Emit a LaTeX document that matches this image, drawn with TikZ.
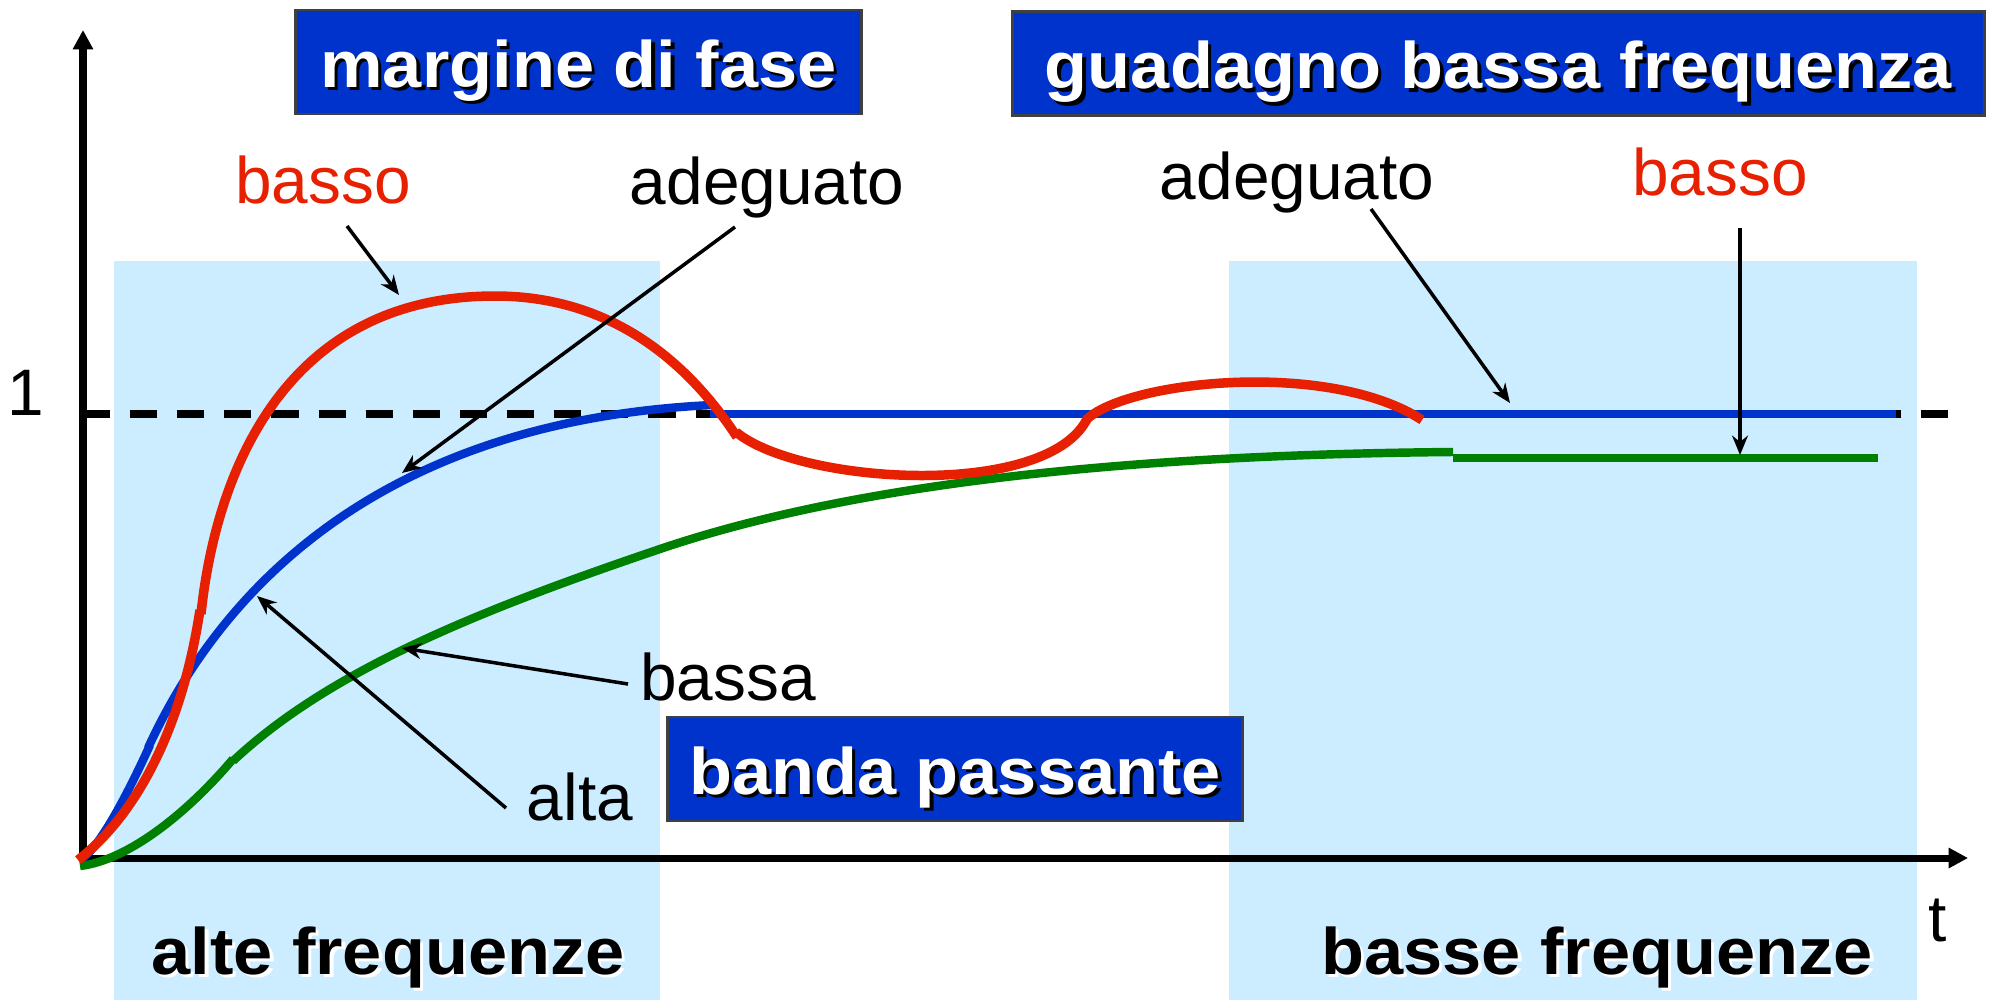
\documentclass[tikz,border=0pt]{standalone}
\usepackage{fontspec}
\setmainfont{Liberation Sans}
\newfontfamily\boldlbl[FakeStretch=1.07]{Liberation Sans Bold}
\usetikzlibrary{arrows.meta}
\definecolor{boxblue}{RGB}{0,51,204}
\definecolor{skyfill}{RGB}{204,236,255}
\definecolor{curvered}{RGB}{230,32,0}
\definecolor{curveblue}{RGB}{0,51,204}
\definecolor{curvegreen}{RGB}{0,128,0}
\newcommand{\shadowed}[2]{\makebox[0pt][l]{\hspace*{1pt}\raisebox{-1pt}{\color{#1}#2}}#2}

\begin{document}
\begin{tikzpicture}[x=0.01cm, y=-0.01cm,
    curve/.style={line width=2.4pt},
    pointer/.style={line width=1pt, -{Stealth[length=5.5pt,width=4.5pt]}},
    axis/.style={line width=2pt, -{Triangle[length=5.5pt,width=5.5pt]}},
    titlebox/.style={fill=boxblue, draw=black!75, line width=0.8pt, text=white, inner sep=0pt,
        text height=0.77cm, text depth=0.27cm, font=\boldlbl\fontsize{18.7}{20}\selectfont},
    lbl/.style={anchor=base, inner sep=0pt, font=\fontsize{18.7}{20}\selectfont},
    bandlbl/.style={anchor=base, inner sep=0pt, font=\boldlbl\fontsize{18.7}{20}\selectfont}]
    \useasboundingbox (0,0) rectangle (1989,1000);
    % frequency bands
    \fill[skyfill] (114,261) rectangle (660,1000);
    \fill[skyfill] (1229,261) rectangle (1917,1000);
    \coordinate (O) at (83,858);
    % unit level and axes
    \draw[line width=2pt, dash pattern=on 7.7pt off 5.7pt] (O |- 0,414) -- (1961,414);
    \draw[axis] (O) -- (83,30);
    \draw[axis] (O) -- (1968,858);
    \node[lbl] (one) at (26,415) {1};
    \node[lbl] (tlab) at (1938,941) {t};
    % step responses
    \draw[curve, curvegreen] (80,866) .. controls (130,860) and (190,810) .. (233,759);
    \draw[curve, curvegreen] (233,761) .. controls (330,670) and (480,610) .. (660,549)
        .. controls (840,488) and (1100,455) .. (1453,452);
    \draw[curve, curvegreen] (1453,458) -- (1878,458);
    \draw[curve, curveblue] (83,858) .. controls (100,845) and (125,800) .. (150,745);
    \draw[curve, curveblue] (148,748) .. controls (230,570) and (400,420) .. (712,405);
    \draw[curve, curveblue] (710,414) -- (1896,414);
    \draw[curve, curvered, line width=2.7pt] (78,860) .. controls (130,820) and (180,740) .. (200,610);
    \draw[curve, curvered, line width=2.7pt] (201,614) .. controls (215,480) and (280,296) .. (495,296)
        .. controls (600,296) and (680,350) .. (737,437);
    \draw[curve, curvered, line width=2.7pt] (736,432) .. controls (800,485) and (1050,500) .. (1088,417);
    \draw[curve, curvered, line width=2.7pt] (1087,419) .. controls (1130,380) and (1330,360) .. (1422,420);
    % labels
    \node[lbl, text=curvered] (bassoL) at (323,203) {basso};
    \node[lbl] (adegL) at (767,204) {adeguato};
    \node[lbl] (adegR) at (1297,199) {adeguato};
    \node[lbl, text=curvered] (bassoR) at (1720,195) {basso};
    \node[lbl] (bassa) at (728,700) {bassa};
    \node[lbl] (alta) at (580,820) {alta};
    \node[bandlbl] (alte) at (388,974) {\shadowed{white}{alte frequenze}};
    \node[bandlbl] (basse) at (1597,974) {\shadowed{white}{basse frequenze}};
    % pointers
    \coordinate (bassoL-from) at (347,226);   \coordinate (bassoL-to) at (399,295);
    \coordinate (adegL-from) at (735,227);    \coordinate (adegL-to) at (402,473);
    \coordinate (alta-from) at (506,808);     \coordinate (alta-to) at (257,596);
    \coordinate (bassa-from) at (628,684);    \coordinate (bassa-to) at (402,648);
    \coordinate (adegR-from) at (1371,209);   \coordinate (adegR-to) at (1510,403);
    \coordinate (bassoR-from) at (1740,228);  \coordinate (bassoR-to) at (1740,455);
    \foreach \p in {bassoL,adegL,alta,bassa,adegR,bassoR}
        \draw[pointer] (\p-from) -- (\p-to);
    % titles
    \node[titlebox, minimum width=5.65cm] (margine) at (578.5,62) {\shadowed{black}{margine di fase}};
    \node[titlebox, minimum width=9.71cm] (guadagno) at (1498.5,63.5) {\shadowed{black}{guadagno bassa frequenza}};
    \node[titlebox, minimum width=5.74cm] (banda) at (955,769) {\shadowed{black}{banda passante}};
\end{tikzpicture}
\end{document}
